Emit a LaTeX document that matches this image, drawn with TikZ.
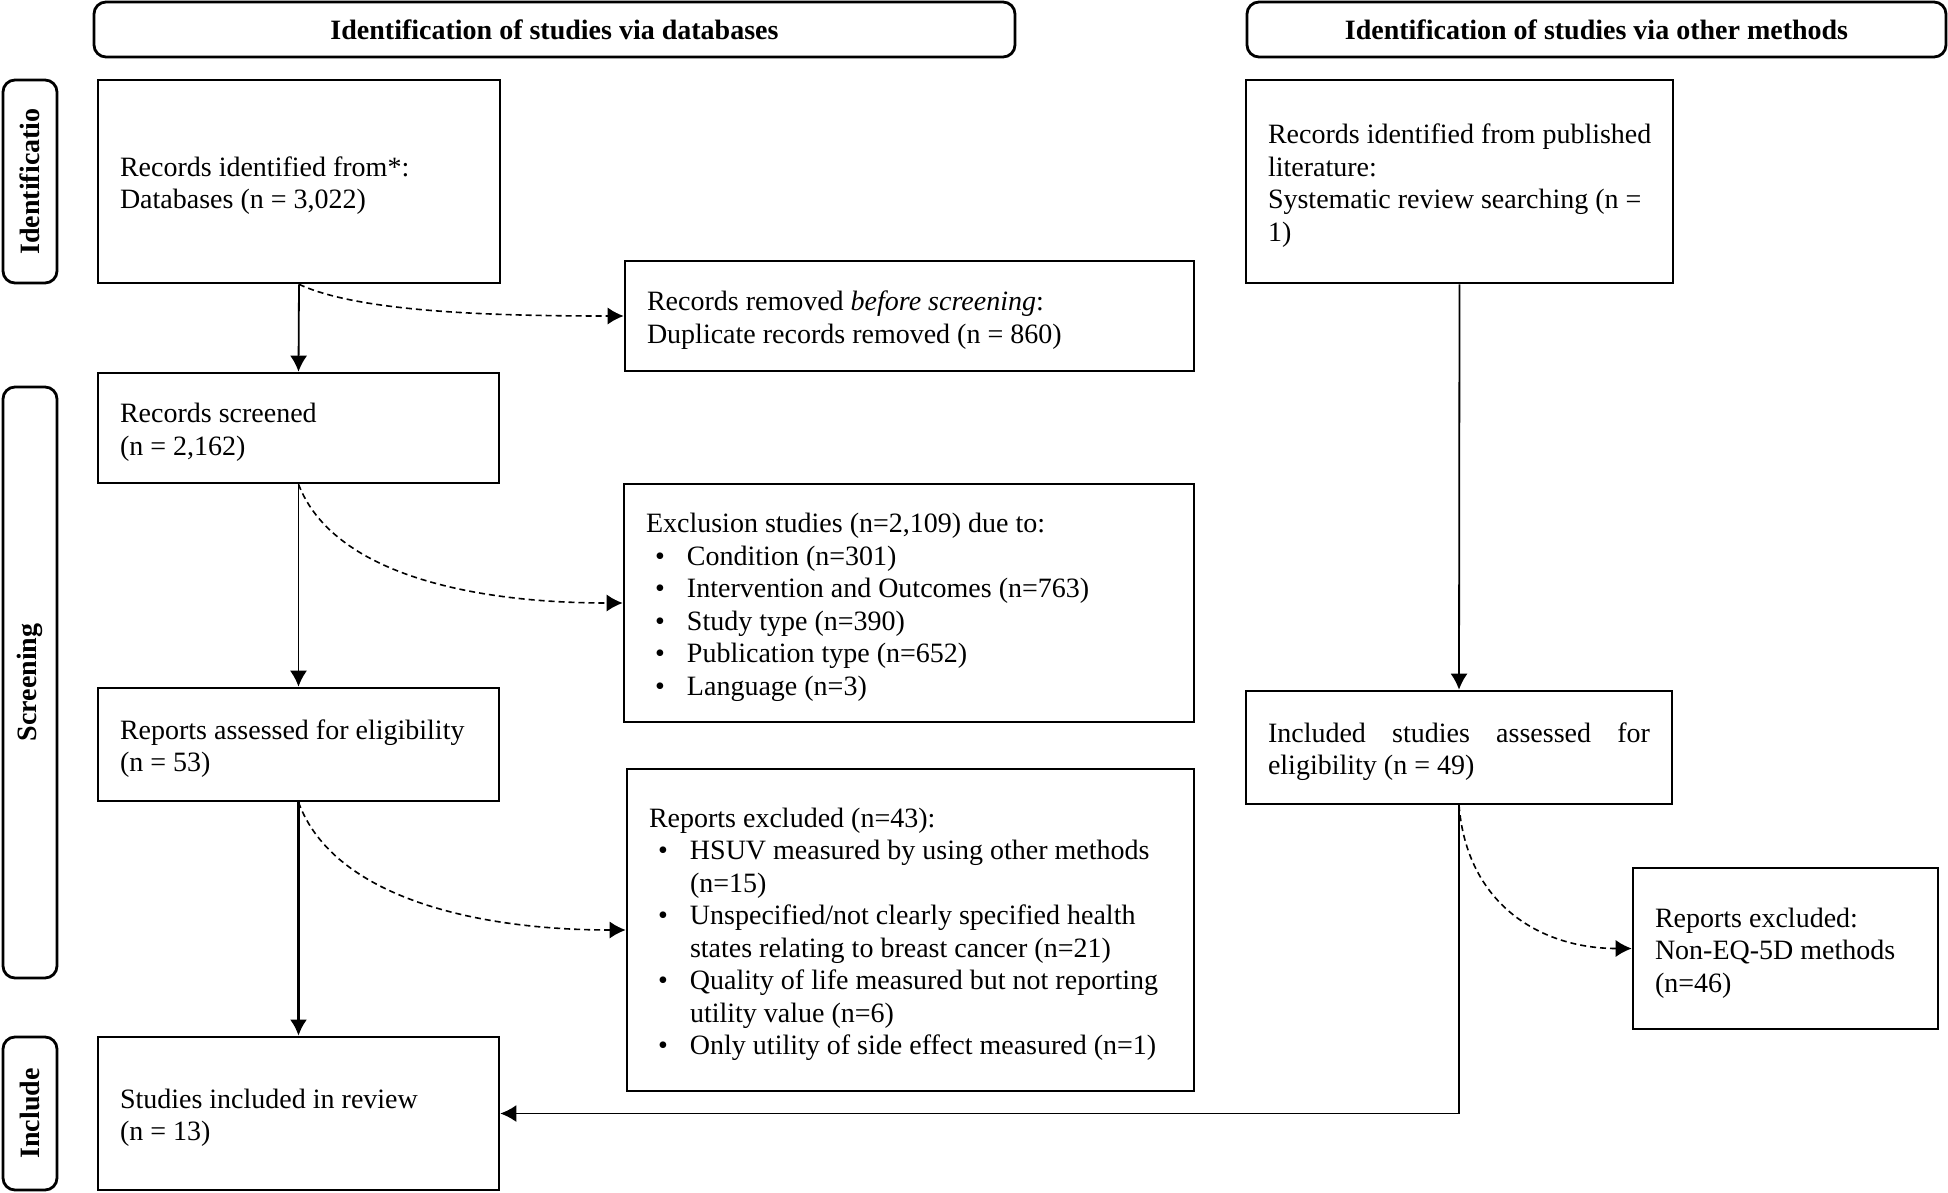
\documentclass[tikz,border=0pt]{standalone}
\usepackage{fontspec}
\setmainfont{Liberation Serif}
\usetikzlibrary{arrows.meta}
\newcommand\boxfont{\fontsize{28}{32.5}\selectfont\hyphenpenalty = 10000\relax}
\newcommand\bitem{\hspace*{9pt}\makebox[32pt][l]{\textbullet}}
\newcommand\bcont{\hspace*{41pt}}

\tikzset{
  box/.style = {draw, line width = 2.6pt, inner xsep = 22pt, inner ysep = 0pt,
    align = left, font = \boxfont,
    execute at begin node = {\spaceskip = 0pt\xspaceskip = 0pt\rule{0pt}{28pt}}},
  head/.style = {draw, line width = 2.8pt, rounded corners = 12pt,
    font = \boxfont\bfseries, minimum height = 55pt},
  phase/.style = {draw, line width = 2.8pt, rounded corners = 12pt, rotate = 90,
    font = \boxfont\bfseries, minimum height = 54pt, inner sep = 0pt},
  arr/.style = {line width = 1.8pt, -{Latex[length = 16pt, width = 17pt]}},
  dasharr/.style = {arr, line width = 1.6pt, dash pattern = on 6pt off 4pt}
}

\begin{document}
\begin{tikzpicture}[x = 1pt, y = 1pt]
  \useasboundingbox (0, 0) rectangle (1948, -1193);

  % headers and phases
  \node[head, minimum width = 921pt] (hdrDb) at (554.5, -29.5)
    {Identification of studies via databases};
  \node[head, minimum width = 699pt] (hdrOth) at (1596.5, -29.5)
    {Identification of studies via other methods};

  \node[phase, minimum width = 203pt] (phId) at (30, -181.5) {Identificatio};
  \node[phase, minimum width = 591pt] (phScr) at (30, -682.5) {Screening};
  \node[phase, minimum width = 153pt] (phInc) at (30, -1113.5) {Include};

  % databases
  \node[box, text width = 358pt, minimum height = 203pt] (recId) at (299, -181.5)
    {Records identified from*:\\Databases (n = 3,022)};
  \node[box, text width = 525pt, minimum height = 110pt] (recRem) at (909.5, -316)
    {Records removed \textit{before screening}:\\Duplicate records removed (n = 860)};
  \node[box, text width = 357pt, minimum height = 110pt] (recScr) at (298.5, -428)
    {Records screened\\(n = 2,162)};
  \node[box, text width = 526pt, minimum height = 238pt] (exclScr) at (909, -603)
    {Exclusion studies (n=2,109) due to:\\
     \bitem Condition (n=301)\\
     \bitem Intervention and Outcomes (n=763)\\
     \bitem Study type (n=390)\\
     \bitem Publication type (n=652)\\
     \bitem Language (n=3)};
  \node[box, text width = 357pt, minimum height = 113pt] (repAss) at (298.5, -744.5)
    {Reports assessed for eligibility\\(n = 53)};
  \node[box, text width = 523pt, minimum height = 322pt] (repExcl) at (910.5, -930)
    {Reports excluded (n=43):\\
     \bitem HSUV measured by using other methods\\
     \bcont (n=15)\\
     \bitem Unspecified/not clearly specified health\\
     \bcont states relating to breast cancer (n=21)\\
     \bitem \mbox{Quality of life measured but not reporting}\\
     \bcont utility value (n=6)\\
     \bitem Only utility of side effect measured (n=1)};
  \node[box, text width = 357pt, minimum height = 153pt] (incl) at (298.5, -1113.5)
    {Studies included in review\\(n = 13)};

  % other methods
  \node[box, text width = 383pt, minimum height = 203pt] (othRec) at (1459.5, -181.5)
    {\mbox{Records identified from published}\\literature:\\Systematic review searching (n =\\1)};
  \node[box, text width = 382pt, minimum height = 113pt] (othAss) at (1459, -747.5)
    {Included \hfill studies \hfill assessed \hfill for\\eligibility (n = 49)};
  \node[box, text width = 261pt, minimum height = 161pt] (othExcl) at (1785.5, -948.5)
    {Reports excluded:\\Non-EQ-5D methods\\(n=46)};

  \draw[arr] (recId.south) -- (recScr.north);
  \draw[arr] (recScr.south) -- (repAss.north);
  \draw[arr, line width = 2.8pt] (repAss.south) -- (incl.north);
  \draw[arr] (othRec.south) -- (othAss.north);
  \draw[arr] (othAss.south) |- (incl.east);

  \draw[dasharr] (recId.south) .. controls +(60, -28) and +(-130, 0) .. (recRem.west);
  \draw[dasharr] (recScr.south) .. controls +(35, -90) and +(-150, 0) .. (exclScr.west);
  \draw[dasharr] (repAss.south) .. controls +(35, -95) and +(-150, 0) .. (repExcl.west);
  \draw[dasharr] (othAss.south) .. controls +(8, -100) and +(-90, 0) .. (othExcl.west);
\end{tikzpicture}
\end{document}
